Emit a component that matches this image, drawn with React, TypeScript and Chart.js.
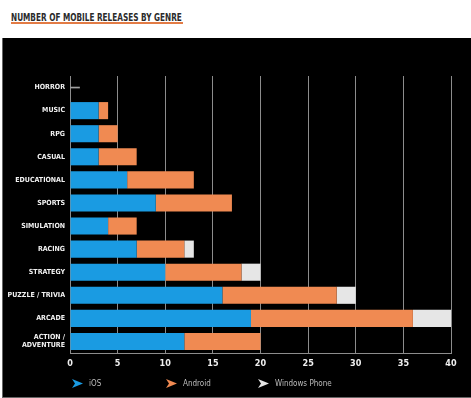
import React, { useEffect, useRef } from "react";
import { Chart, registerables } from "chart.js";

Chart.register(...registerables);

// ---- data ----
const genres: (string | string[])[] = [
  "HORROR",
  "MUSIC",
  "RPG",
  "CASUAL",
  "EDUCATIONAL",
  "SPORTS",
  "SIMULATION",
  "RACING",
  "STRATEGY",
  "PUZZLE / TRIVIA",
  "ARCADE",
  ["ACTION /", "ADVENTURE"],
];
const seriesNames = ["iOS", "Android", "Windows Phone"];
const iosValues = [0, 3, 3, 3, 6, 9, 4, 7, 10, 16, 19, 12];
const androidValues = [0, 1, 2, 4, 7, 8, 3, 5, 8, 12, 17, 8];
const windowsPhoneValues = [0, 0, 0, 0, 0, 0, 0, 1, 2, 2, 4, 0];
// thin dash shown for genre with no releases
const noReleaseMarker = [1, null, null, null, null, null, null, null, null, null, null, null];
const xTickMin = 0;
const xTickMax = 40;
const xTickStep = 5;
const titleText = "NUMBER OF MOBILE RELEASES BY GENRE";

const seriesColors = ["#1a9be2", "#f08a52", "#e6e6e6"];
const labelFont = "'Liberation Sans Narrow', 'DejaVu Sans Condensed', Arial, sans-serif";

const legendOffsets = [2, 96, 188];

const legendPlugin = {
  id: "customLegend",
  afterDraw(chart: any) {
    const ctx = chart.ctx as CanvasRenderingContext2D;
    const left = chart.chartArea.left;
    const y = chart.height - 13.5;
    ctx.save();
    seriesNames.forEach((name, i) => {
      const x = left + legendOffsets[i];
      ctx.fillStyle = seriesColors[i];
      ctx.beginPath();
      ctx.moveTo(x, y - 4.5);
      ctx.lineTo(x + 11, y);
      ctx.lineTo(x, y + 4.5);
      ctx.lineTo(x + 3, y);
      ctx.closePath();
      ctx.fill();
      ctx.fillStyle = "#bdbdbd";
      ctx.font = `8px ${labelFont}`;
      ctx.textBaseline = "middle";
      ctx.textAlign = "left";
      ctx.fillText(name, x + 17, y);
    });
    ctx.restore();
  },
};

export default function App() {
  const canvasRef = useRef<HTMLCanvasElement | null>(null);
  const titleRef = useRef<HTMLSpanElement | null>(null);

  useEffect(() => {
    const el = titleRef.current;
    if (el) {
      const w = el.offsetWidth;
      if (w > 0) el.style.transform = `scaleX(${171 / w})`;
    }
    if (!canvasRef.current) return;
    const chart = new Chart(canvasRef.current, {
      type: "bar",
      data: {
        labels: genres as any,
        datasets: [
          {
            label: seriesNames[0],
            data: iosValues,
            backgroundColor: seriesColors[0],
            barPercentage: 0.74,
            categoryPercentage: 1,
          },
          {
            label: seriesNames[1],
            data: androidValues,
            backgroundColor: seriesColors[1],
            barPercentage: 0.74,
            categoryPercentage: 1,
          },
          {
            label: seriesNames[2],
            data: windowsPhoneValues,
            backgroundColor: seriesColors[2],
            barPercentage: 0.74,
            categoryPercentage: 1,
          },
          {
            label: "none",
            data: noReleaseMarker as any,
            backgroundColor: "#a0a0a0",
            barThickness: 1,
          },
        ],
      },
      options: {
        indexAxis: "y",
        responsive: false,
        animation: false,
        layout: { padding: { top: 38, right: 20, left: 0, bottom: 24 } },
        plugins: {
          legend: { display: false },
          tooltip: { enabled: false },
          title: { display: false },
        },
        scales: {
          x: {
            stacked: true,
            min: xTickMin,
            max: xTickMax,
            ticks: {
              stepSize: xTickStep,
              color: "#f0f0f0",
              padding: 5,
              font: { family: labelFont, size: 9, weight: "bold" },
            },
            grid: { color: "#8c8c8c", lineWidth: 1, drawTicks: false },
            border: { display: true, color: "#8c8c8c", width: 1 },
            afterFit: (scale: any) => {
              scale.height = 20;
            },
          },
          y: {
            stacked: true,
            ticks: {
              color: "#f2f2f2",
              padding: 5,
              font: { family: labelFont, size: 7, weight: "bold", lineHeight: 1.2 },
            },
            grid: { display: false, drawTicks: false },
            border: { display: true, color: "#8c8c8c", width: 1 },
            afterFit: (scale: any) => {
              scale.width = 67;
            },
          },
        },
      },
      plugins: [legendPlugin],
    });
    return () => chart.destroy();
  }, []);

  return (
    <div>
      <div style={{ position: "absolute", left: 11, top: 9.7, lineHeight: "11px" }}>
        <span
          ref={titleRef}
          style={{
            display: "inline-block",
            transformOrigin: "left top",
            font: `bold 11px ${labelFont}`,
            lineHeight: "11px",
            color: "#2b2b2b",
            whiteSpace: "nowrap",
          }}
        >
          {titleText}
        </span>
      </div>
      <div
        style={{
          position: "absolute",
          left: 11,
          top: 22,
          width: 172,
          height: 1.5,
          background: "#e27b45",
        }}
      />
      <div
        style={{
          position: "absolute",
          left: 2,
          top: 38,
          width: 469,
          height: 360,
          boxSizing: "border-box",
          borderLeft: "1px solid #666",
          borderBottom: "1px solid #666",
          background: "#000",
        }}
      >
        <canvas ref={canvasRef} width={468} height={359} style={{ display: "block" }} />
      </div>
    </div>
  );
}
